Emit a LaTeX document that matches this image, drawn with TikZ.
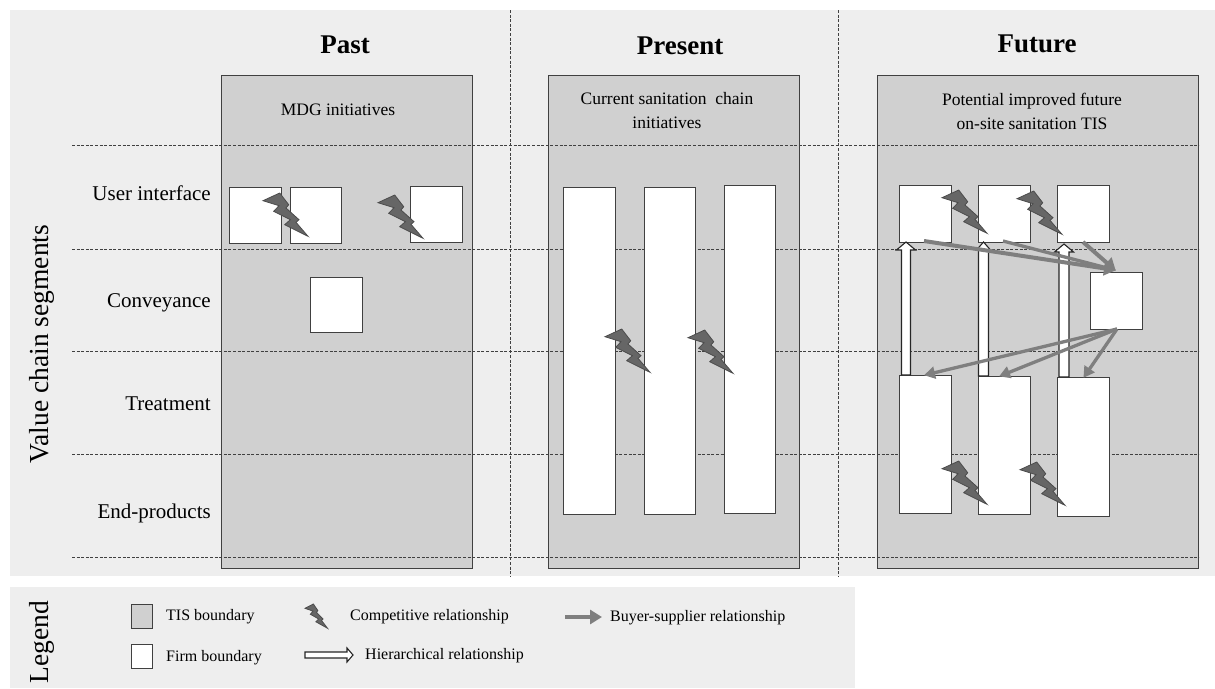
\documentclass[tikz,border=0pt]{standalone}
\usepackage{fontspec}
\setmainfont{Liberation Serif}
\usetikzlibrary{calc,arrows.meta}
\definecolor{bgc}{HTML}{EEEEEE}
\definecolor{panelc}{HTML}{D0D0D0}
\definecolor{linec}{HTML}{404040}
\definecolor{boltc}{HTML}{666666}
\definecolor{arrowc}{HTML}{7F7F7F}
\tikzset{
  band/.style={fill=bgc,draw=none},
  panel/.style={fill=panelc,draw=linec,line width=0.95pt},
  firm/.style={fill=white,draw=linec,line width=0.95pt},
  divider/.style={draw=black!75,dashed,line width=0.8pt,dash pattern=on 3pt off 1.6pt},
  title/.style={font=\bfseries\fontsize{27}{29}\selectfont,anchor=center},
  sub/.style={font=\fontsize{17.5}{24}\selectfont,align=center,anchor=center},
  rowlab/.style={font=\fontsize{21}{23}\selectfont,anchor=east,inner sep=0pt},
  sidelab/.style={font=\fontsize{27.5}{29}\selectfont,rotate=90,anchor=center},
  leg/.style={font=\fontsize{16}{18}\selectfont,anchor=west,inner sep=0pt},
  buyer/.style={draw=arrowc,line width=4pt,-{Triangle[length=12pt,width=14pt]},shorten >=-1pt},
  buyerthin/.style={buyer,line width=3.3pt,-{Triangle[length=11pt,width=12pt]}},
  buyerfat/.style={buyer,line width=4.6pt},
  blockar/.style={fill=white,draw=black!85,line width=1.1pt,line join=miter},
  boltst/.style={fill=boltc,draw=black!70,line width=0.8pt,line join=miter},
}
% box by corners, as a named node
\newcommand{\rbox}[6]{\node[#1,minimum width=#4pt-#3pt,minimum height=#6pt-#5pt,inner sep=0pt,outer sep=0pt,anchor=north west] (#2) at (#3,#5) {};}
\newcommand{\bolt}[4]{\begin{scope}[shift={(#1,#2)},xscale=#3,yscale=#4]
\draw[boltst] (0,7.7)--(16.7,0)--(25.7,11.7)--(23,15)--(36,26.7)--(33,29.3)--(45,43.3)--(21.7,31.7)--(27.3,26.7)--(10.7,18.3)--(16,12.7)--cycle;
\end{scope}}
% hollow block arrow between two named points: half shaft, half head, head length
\newcommand{\blockarrow}[5]{\draw[blockar]
  ($(#1)!#3pt!90:(#2)$) -- ($(#2)!#5pt!(#1)!#3pt!-90:(#1)$) -- ($(#2)!#5pt!(#1)!#4pt!-90:(#1)$) -- (#2)
  -- ($(#2)!#5pt!(#1)!#4pt!90:(#1)$) -- ($(#2)!#5pt!(#1)!#3pt!90:(#1)$) -- ($(#1)!#3pt!-90:(#2)$) -- cycle;}
\begin{document}
\begin{tikzpicture}[x=1pt,y=-1pt]
\useasboundingbox (0,0) rectangle (1215,688);
\fill[white] (0,0) rectangle (1215,688);
\rbox{band}{bgmain}{10}{1215}{10}{576}
\rbox{band}{bgleg}{10}{855}{587}{688}
% panels
\rbox{panel}{past}{221}{472}{75}{568}
\rbox{panel}{present}{548}{799}{75}{568}
\rbox{panel}{future}{877}{1198}{75}{568}
% dividers
\foreach \y/\n in {145/a,249/b,351/c,454/d,557/e}{
  \coordinate (hl\n) at (72,\y); \coordinate (hr\n) at (1199,\y);
  \draw[divider] (hl\n) -- (hr\n);
}
\foreach \x/\n in {510/a,838/b}{
  \coordinate (vt\n) at (\x,10); \coordinate (vb\n) at (\x,576);
  \draw[divider] (vt\n) -- (vb\n);
}
% titles
\node[title] (tpast) at (345,45) {Past};
\node[title] (tpres) at (680,46) {Present};
\node[title] (tfut) at (1037,44) {Future};
\node[sub] (s1) at (338,110) {MDG initiatives};
\node[sub] (s2) at (667,111) {Current sanitation\ \ chain\\initiatives};
\node[sub] (s3) at (1032,111) {Potential improved future\\on-site sanitation TIS};
% row labels
\node[rowlab] (r1) at (211,193) {User interface};
\node[rowlab] (r2) at (211,303) {Conveyance};
\node[rowlab] (r3) at (211,404) {Treatment};
\node[rowlab] (r4) at (211,513) {End-products};
\node[sidelab] (vcs) at (42,344) {Value chain segments};
% past firms
\rbox{firm}{pa}{229}{281}{187}{243}
\rbox{firm}{pb}{290}{341}{187}{243}
\rbox{firm}{pc}{410}{462}{186}{242}
\rbox{firm}{pd}{310}{362}{277}{332}
% present firms
\rbox{firm}{qa}{563}{615}{187}{514}
\rbox{firm}{qb}{644}{695}{187}{514}
\rbox{firm}{qc}{724}{775}{185}{513}
% future firms
\rbox{firm}{ua}{899}{951}{185}{242}
\rbox{firm}{ub}{978}{1030}{185}{242}
\rbox{firm}{uc}{1057}{1109}{185}{242}
\rbox{firm}{cv}{1090}{1142}{272}{329}
\rbox{firm}{ta}{899}{951}{375}{513}
\rbox{firm}{tb}{978}{1030}{376}{514}
\rbox{firm}{tc}{1057}{1109}{377}{516}
% hierarchical
\coordinate (ha0) at ($(ta.north west)+(7,0)$);  \coordinate (ha1) at ($(ua.south west)+(7,0)$);
\coordinate (hb0) at ($(tb.north west)+(5.5,0)$); \coordinate (hb1) at ($(ub.south west)+(5.5,0)$);
\coordinate (hc0) at ($(tc.north west)+(7,0)$);  \coordinate (hc1) at ($(uc.south west)+(7,2)$);
\blockarrow{ha0}{ha1}{4.5}{9.5}{8}
\blockarrow{hb0}{hb1}{5}{7}{8}
\blockarrow{hc0}{hc1}{5}{9.5}{8}
% buyer-supplier
\coordinate (cvin) at ($(cv.north)+(-1,-2)$);
\coordinate (cvout) at ($(cv.south)+(1,0)$);
\draw[buyer] ($(ua.south)+(-1,-1)$) -- (cvin);
\draw[buyerthin] ($(ub.south)+(-1,-1)$) -- (cvin);
\draw[buyer] ($(uc.south)+(0,0)$) -- (cvin);
\draw[buyerthin] (cvout) -- ($(ta.north)+(0,0)$);
\draw[buyerthin] (cvout) -- ($(tb.north)+(-4,0)$);
\draw[buyerthin] (cvout) -- ($(tc.north)+(1,0)$);
% bolts
\bolt{263}{193}{1}{1}
\bolt{378}{195}{1}{1}
\bolt{605}{329}{1}{1}
\bolt{688}{330}{1}{1}
\bolt{942}{190}{1}{1}
\bolt{1017}{191}{1}{1}
\bolt{942}{461}{1}{1}
\bolt{1020}{462}{1}{1}
% legend
\node[sidelab] (lg) at (42,642) {Legend};
\rbox{panel}{lgtis}{131}{152}{604}{628}
\rbox{firm}{lgfirm}{131}{152}{644}{668}
\node[leg] (lt1) at (166,617) {TIS boundary};
\node[leg] (lt2) at (166,658) {Firm boundary};
\bolt{305}{604}{0.5}{0.56}
\node[leg] (lt3) at (350,617) {Competitive relationship};
\coordinate (lh0) at (305,655); \coordinate (lh1) at (353,655);
\blockarrow{lh0}{lh1}{3}{7}{6}
\node[leg] (lt4) at (365,656) {Hierarchical relationship};
\coordinate (lb0) at (565,617); \coordinate (lb1) at (601,617);
\draw[buyerfat] (lb0) -- (lb1);
\node[leg] (lt5) at (610,618) {Buyer-supplier relationship};
\end{tikzpicture}
\end{document}
